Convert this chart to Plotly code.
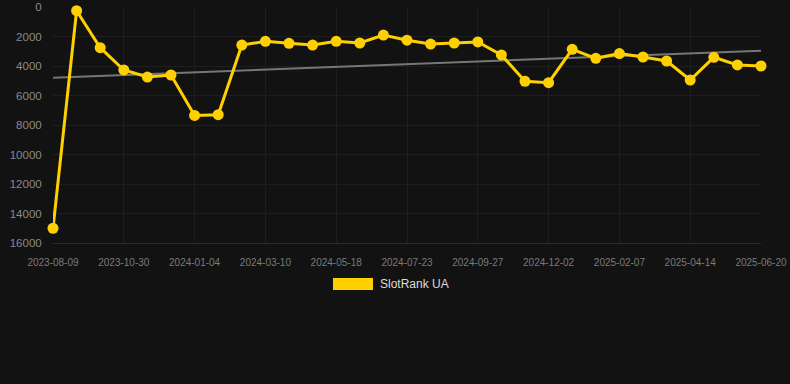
import plotly.graph_objects as go

dates = [
    "2023-08-09", "2023-09-05", "2023-10-02", "2023-10-30", "2023-11-21", "2023-12-13",
    "2024-01-04", "2024-01-26", "2024-02-17", "2024-03-10", "2024-04-02", "2024-04-25",
    "2024-05-18", "2024-06-08", "2024-07-01", "2024-07-23", "2024-08-14", "2024-09-05",
    "2024-09-27", "2024-10-19", "2024-11-10", "2024-12-02", "2024-12-24", "2025-01-16",
    "2025-02-07", "2025-03-01", "2025-03-23", "2025-04-14", "2025-05-06", "2025-05-28",
    "2025-06-20",
]
rank = [
    15000, 250, 2760, 4270, 4750, 4610, 7350, 7300, 2580, 2330, 2460, 2580,
    2330, 2440, 1900, 2250, 2510, 2440, 2370, 3250, 5040, 5130, 2870, 3480,
    3160, 3390, 3660, 4950, 3410, 3930, 4000,
]
trend_x = [dates[0], dates[-1]]
trend_y = [4790, 2960]
tick_labels = dates[::3]
series_name = "SlotRank UA"

fig = go.Figure()
fig.add_trace(go.Scatter(
    x=trend_x, y=trend_y, mode="lines",
    line=dict(color="#767676", width=2), hoverinfo="skip", showlegend=False,
))
fig.add_trace(go.Scatter(
    x=dates, y=rank, mode="lines+markers", name=series_name,
    line=dict(color="#FFD000", width=3),
    marker=dict(color="#FFD000", size=11),
    cliponaxis=False, showlegend=False,
))

fig.update_layout(
    width=790, height=384,
    paper_bgcolor="#121212", plot_bgcolor="#121212",
    margin=dict(l=53, r=29, t=7, b=141),
    font=dict(family="Liberation Sans, Arial, sans-serif", color="#888888"),
    xaxis=dict(
        type="category", categoryorder="array", categoryarray=dates,
        range=[0, len(dates) - 1], automargin=False,
        tickvals=tick_labels, ticktext=tick_labels,
        showgrid=True, gridcolor="#1e1e1e", gridwidth=1,
        zeroline=False, showline=True, linecolor="#2a2a2a", linewidth=1,
        ticks="outside", ticklen=10, tickcolor="rgba(0,0,0,0)",
        tickfont=dict(size=10, color="#7a7a7a"), tickangle=0,
    ),
    yaxis=dict(
        range=[16000, 0], tickvals=list(range(0, 16001, 2000)), tickformat="d",
        automargin=False,
        showgrid=True, gridcolor="#1e1e1e", gridwidth=1,
        zeroline=False, showline=False,
        ticks="outside", ticklen=8, tickcolor="rgba(0,0,0,0)",
        tickfont=dict(size=11.5, color="#8a8a8a"),
    ),
    shapes=[dict(
        type="rect", xref="paper", yref="paper",
        x0=(333 - 53) / 708, x1=(373 - 53) / 708,
        y0=(384 - 141 - 290) / 236, y1=(384 - 141 - 278) / 236,
        fillcolor="#FFD000", line=dict(width=0),
    )],
    annotations=[dict(
        text=series_name, xref="paper", yref="paper",
        x=(378 - 53) / 708, y=(384 - 141 - 284) / 236,
        xanchor="left", yanchor="middle", showarrow=False,
        font=dict(size=12, color="#dddddd"),
    )],
)

fig.write_html(
    "out.html",
    config={"displayModeBar": False},
    post_script="document.body.style.margin='0';document.body.style.background='#121212';",
)
